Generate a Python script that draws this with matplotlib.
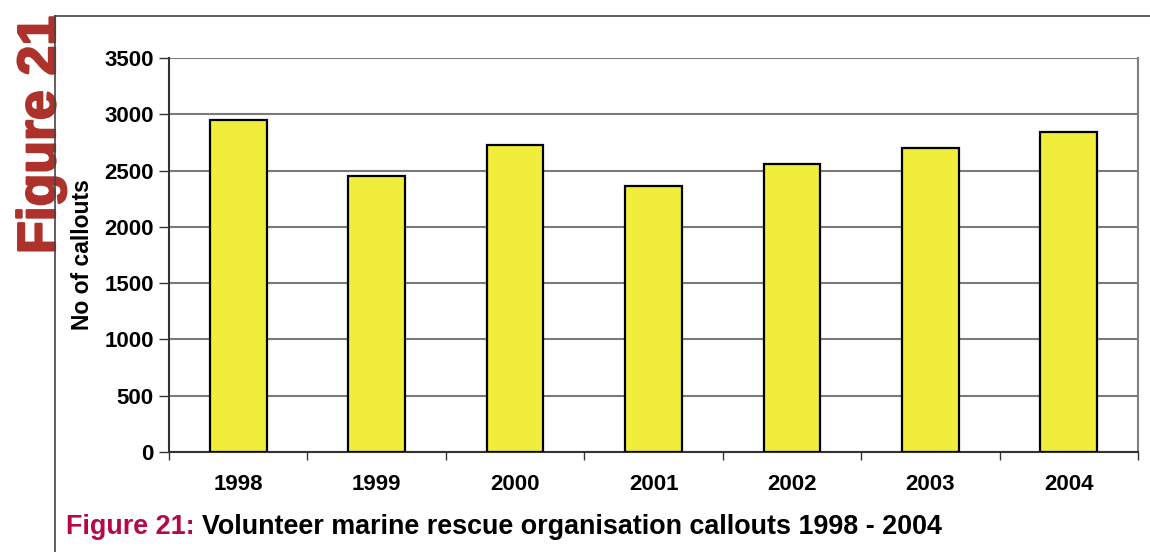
import matplotlib
matplotlib.use("Agg")
import matplotlib.pyplot as plt
import matplotlib.patheffects as pe
from matplotlib.lines import Line2D
import numpy as np

years = ["1998", "1999", "2000", "2001", "2002", "2003", "2004"]
callouts = [2950, 2450, 2730, 2360, 2560, 2700, 2840]
y_ticks = [0, 500, 1000, 1500, 2000, 2500, 3000, 3500]

W, H = 1150, 552
fig = plt.figure(figsize=(W / 100, H / 100), dpi=100)
fig.patch.set_facecolor("white")

# axes box in pixel coordinates
x0, x1 = 169, 1138
y_top, y_bot = 58, 452
ax = fig.add_axes([x0 / W, 1 - y_bot / H, (x1 - x0) / W, (y_bot - y_top) / H])

pos = np.arange(len(years))
ax.bar(pos, callouts, width=0.41, color="#f0ee3a", edgecolor="black",
       linewidth=1.6, zorder=3)

ax.set_xlim(-0.5, len(years) - 0.5)
ax.set_ylim(0, 3500)
ax.set_yticks(y_ticks)
ax.set_yticklabels([str(v) for v in y_ticks])
ax.yaxis.grid(True, color="#7a7a7a", linewidth=1.5, zorder=0)
ax.set_axisbelow(True)

# category ticks between the bars
ax.set_xticks(pos)
ax.set_xticklabels(years)
ax.set_xticks(np.arange(-0.5, len(years)), minor=True)
ax.tick_params(axis="x", which="major", length=0, pad=16)
ax.tick_params(axis="x", which="minor", length=6, width=1, color="#333333")
ax.tick_params(axis="y", length=7, width=1, color="#333333", pad=4)

for lbl in ax.get_xticklabels() + ax.get_yticklabels():
    lbl.set_fontfamily("Liberation Sans")
    lbl.set_fontweight("bold")
    lbl.set_fontsize(16)

ax.spines["top"].set_visible(False)
ax.spines["right"].set_color("#808080")
ax.spines["right"].set_linewidth(1.5)
ax.spines["left"].set_color("#333333")
ax.spines["left"].set_linewidth(1.5)
ax.spines["bottom"].set_color("#333333")
ax.spines["bottom"].set_linewidth(1.5)

ax.set_ylabel("No of callouts", fontfamily="Liberation Sans", fontweight="bold",
              fontsize=16.5)
ax.yaxis.set_label_coords((94 - x0) / (x1 - x0), 0.5)

# page frame lines (drawn over the vertical tag)
fig.add_artist(Line2D([55 / W, 55 / W], [0, 1 - 16 / H], color="#444444",
                      linewidth=1.2, transform=fig.transFigure, zorder=5))
fig.add_artist(Line2D([55 / W, 1], [1 - 16 / H, 1 - 16 / H], color="#444444",
                      linewidth=1.2, transform=fig.transFigure, zorder=5))

# vertical figure tag, baseline sitting on the frame line, slightly heavier outline
tag_color = "#ad322c"
tag = fig.text(55 / W, 1 - 254 / H, "Figure 21", rotation=90, rotation_mode="anchor",
               ha="left", va="baseline", color=tag_color,
               fontfamily="Liberation Sans", fontweight="bold", fontsize=47,
               zorder=3,
               path_effects=[pe.withStroke(linewidth=1.6, foreground=tag_color)])
fig.canvas.draw()
span = tag.get_window_extent().height
if span > 240:
    tag.set_fontsize(47 * 238 / span)

# caption
cap_y = 1 - 527 / H
t = fig.text(66 / W, cap_y, "Figure 21:", color="#b5084a",
             fontfamily="Liberation Sans", fontweight="bold", fontsize=19.4,
             va="center", ha="left")
fig.canvas.draw()
bb = t.get_window_extent()
fig.text((bb.x1 + 7) / W, cap_y, "Volunteer marine rescue organisation callouts 1998 - 2004",
         color="black", fontfamily="Liberation Sans", fontweight="bold",
         fontsize=19.4, va="center", ha="left")

fig.savefig("out.png", dpi=100, facecolor="white")
